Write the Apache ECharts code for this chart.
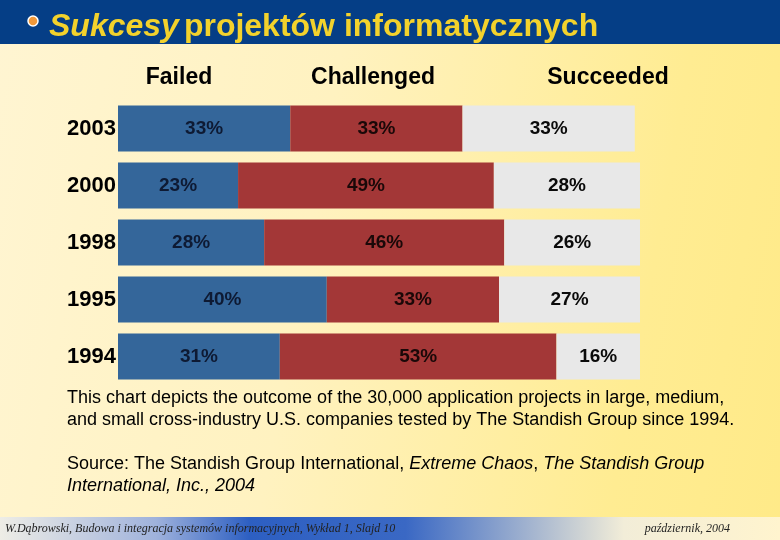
<!DOCTYPE html>
<html><head><meta charset="utf-8">
<script src="https://cdn.jsdelivr.net/npm/echarts@6/dist/echarts.min.js"></script>
<style>
html,body{margin:0;padding:0;}
#c{width:780px;height:540px;background:linear-gradient(100deg,#FFF5D2 0%,#FFF2C0 40%,#FFEC92 80%,#FFEA88 100%);}
</style></head>
<body><div id="c"></div>
<script>
var years = ['2003','2000','1998','1995','1994'];
var failed = [33,23,28,40,31];
var challenged = [33,49,46,33,53];
var succeeded = [33,28,26,27,16];
var seriesNames = ['Failed','Challenged','Succeeded'];

var chart = echarts.init(document.getElementById('c'));
var F = '"Liberation Sans", Arial, sans-serif';
function lbl(color){
  return {show:true,position:'inside',formatter:'{c}%',fontFamily:F,fontSize:19,fontWeight:'bold',color:color};
}
chart.setOption({
  animation:false,
  title:{
    text:'{i|Sukcesy} {n|projektów informatycznych}',
    left:44, top:6,
    textStyle:{rich:{
      i:{fontFamily:F,fontSize:32,fontStyle:'italic',color:'#F3D22C'},
      n:{fontFamily:F,fontSize:32,color:'#F3D22C'}
    }}
  },
  grid:{left:118,top:100,width:522,height:285,containLabel:false},
  xAxis:{type:'value',min:0,max:100,show:false},
  yAxis:{type:'category',data:years,inverse:true,
    axisLine:{show:false},axisTick:{show:false},
    axisLabel:{margin:2,fontFamily:F,fontSize:22,fontWeight:'bold',color:'#000'}},
  series:[
    {name:seriesNames[0],type:'bar',stack:'s',data:failed,barCategoryGap:'19%',itemStyle:{color:'#34669A'},label:lbl('#0E1A33')},
    {name:seriesNames[1],type:'bar',stack:'s',data:challenged,itemStyle:{color:'#A33737'},label:lbl('#1A0808')},
    {name:seriesNames[2],type:'bar',stack:'s',data:succeeded,itemStyle:{color:'#E8E8E8'},label:lbl('#0A0A0A')}
  ],
  graphic:[
    {type:'rect',z:-1,shape:{x:0,y:0,width:780,height:44},style:{fill:'#053E86'}},
    {type:'circle',shape:{cx:33,cy:21,r:5},style:{fill:'#F0983A',stroke:'#FFFFFF',lineWidth:1.5}},
    {type:'rect',z:-1,shape:{x:0,y:517,width:780,height:23},style:{fill:new echarts.graphic.LinearGradient(0,0,1,0,[
      {offset:0,color:'#EEEDE6'},{offset:0.2,color:'#9FB2DC'},{offset:0.32,color:'#2D5FC2'},{offset:0.52,color:'#3A68C4'},{offset:0.8,color:'#F2EDD8'},{offset:1,color:'#FFF4CE'}])}},
    {type:'text',x:179,y:78,style:{text:seriesNames[0],font:'bold 23px '+F,fill:'#000',align:'center',verticalAlign:'middle'}},
    {type:'text',x:373,y:78,style:{text:seriesNames[1],font:'bold 23px '+F,fill:'#000',align:'center',verticalAlign:'middle'}},
    {type:'text',x:608,y:78,style:{text:seriesNames[2],font:'bold 23px '+F,fill:'#000',align:'center',verticalAlign:'middle'}},
    {type:'text',x:67,y:398,style:{text:'This chart depicts the outcome of the 30,000 application projects in large, medium,',font:'18px '+F,fill:'#000',verticalAlign:'middle'}},
    {type:'text',x:67,y:420,style:{text:'and small cross-industry U.S. companies tested by The Standish Group since 1994.',font:'18px '+F,fill:'#000',verticalAlign:'middle'}},
    {type:'text',x:67,y:464,style:{text:'{n|Source: The Standish Group International, }{i|Extreme Chaos}{n|, }{i|The Standish Group}',
      rich:{n:{fontFamily:F,fontSize:18,color:'#000'},i:{fontFamily:F,fontSize:18,fontStyle:'italic',color:'#000'}},verticalAlign:'middle'}},
    {type:'text',x:67,y:486,style:{text:'International, Inc., 2004',font:'italic 18px '+F,fill:'#000',verticalAlign:'middle'}},
    {type:'text',x:5,y:529,style:{text:'W.Dąbrowski, Budowa i integracja systemów informacyjnych, Wykład 1, Slajd 10',font:'italic 12px "Liberation Serif", serif',fill:'#222',verticalAlign:'middle'}},
    {type:'text',x:730,y:529,style:{text:'październik, 2004',font:'italic 12px "Liberation Serif", serif',fill:'#222',align:'right',verticalAlign:'middle'}}
  ]
});
</script></body></html>
